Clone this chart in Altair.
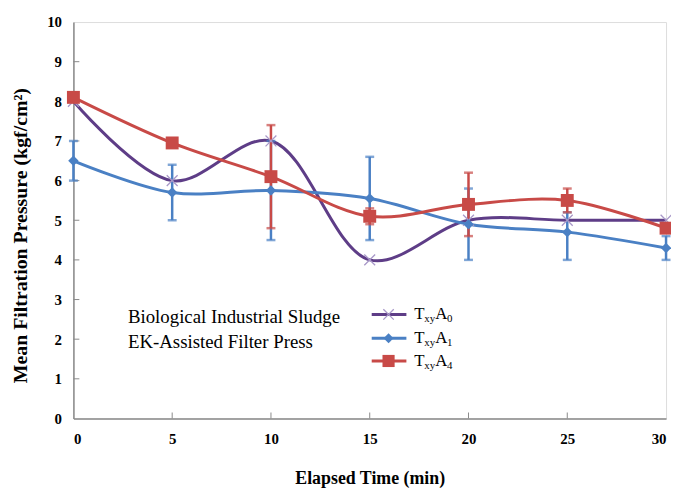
import altair as alt
import pandas as pd

# ---- data ----
times = [0, 5, 10, 15, 20, 25, 30]
a0 = [8.0, 6.0, 7.0, 4.0, 5.0, 5.0, 5.0]
a1 = [6.5, 5.7, 5.75, 5.55, 4.9, 4.7, 4.3]
a4 = [8.1, 6.95, 6.1, 5.1, 5.4, 5.5, 4.8]

a1_err_lo = [6.0, 5.0, 4.5, 4.5, 4.0, 4.0, 4.0]
a1_err_hi = [7.0, 6.4, 7.0, 6.6, 5.8, 5.2, 4.6]

a4_err_t = [10, 15, 20, 25]
a4_err_lo = [4.8, 4.9, 4.6, 5.2]
a4_err_hi = [7.4, 5.3, 6.2, 5.8]

x_ticks = [0, 5, 10, 15, 20, 25, 30]
y_ticks = [0, 1, 2, 3, 4, 5, 6, 7, 8, 9, 10]

PURPLE = "#5E3D87"
PURPLE_MK = "#A898C8"
BLUE = "#4A80C4"
RED = "#C84A47"
SERIF = "Liberation Serif, Times New Roman, serif"

df0 = pd.DataFrame({"t": times, "v": a0})
df1 = pd.DataFrame({"t": times, "v": a1})
df4 = pd.DataFrame({"t": times, "v": a4})
e1 = pd.DataFrame({"t": times, "lo": a1_err_lo, "hi": a1_err_hi})
e4 = pd.DataFrame({"t": a4_err_t, "lo": a4_err_lo, "hi": a4_err_hi})

xs = alt.Scale(domain=[0, 30], nice=False)
ys = alt.Scale(domain=[0, 10], nice=False)

XAX = alt.Axis(
    values=x_ticks, title="Elapsed Time (min)", grid=False, tickSize=0, labelOverlap=False,
    domainColor="#8a8a8a", domainWidth=1.5, labelFont=SERIF, labelFontWeight="bold",
    labelFontSize=15, labelColor="black", labelPadding=13, titleFont=SERIF,
    titleFontWeight="bold", titleFontSize=18, titleColor="black", titleY=61,
    titleBaseline="middle")
YAX = alt.Axis(
    values=y_ticks, title="Mean Filtration Pressure (kgf/cm²)", grid=False, tickSize=0,
    labelOverlap=False, tickCount=11,
    domainColor="#8a8a8a", domainWidth=1.5, labelFont=SERIF, labelFontWeight="bold",
    labelFontSize=15, labelColor="black", labelPadding=12, titleFont=SERIF,
    titleFontWeight="bold", titleFontSize=20, titleColor="black", titleX=-53,
    titleY=215, titleAngle=270, titleAlign="center", titleBaseline="middle")

Xn = lambda f: alt.X(f, scale=xs, axis=XAX)
Yn = lambda f: alt.Y(f, scale=ys, axis=YAX)

# inward ticks
xt = pd.DataFrame({"t": x_ticks[1:-1]})
yt = pd.DataFrame({"v": y_ticks[1:-1]})
xtick = alt.Chart(xt).mark_rule(color="#8a8a8a", strokeWidth=1).encode(
    x=Xn("t:Q"), y=alt.value(400), y2=alt.value(394))
ytick = alt.Chart(yt).mark_rule(color="#8a8a8a", strokeWidth=1).encode(
    y=Yn("v:Q"), x=alt.value(0), x2=alt.value(6))

def err(df, color):
    bar = alt.Chart(df).mark_rule(color=color, strokeWidth=2.5).encode(
        x=Xn("t:Q"), y=Yn("lo:Q"), y2="hi:Q")
    c1 = alt.Chart(df).mark_tick(color=color, thickness=2.5, size=9, orient="horizontal").encode(
        x=Xn("t:Q"), y=Yn("lo:Q"))
    c2 = alt.Chart(df).mark_tick(color=color, thickness=2.5, size=9, orient="horizontal").encode(
        x=Xn("t:Q"), y=Yn("hi:Q"))
    return bar + c1 + c2

def line(df, color):
    return alt.Chart(df).mark_line(color=color, strokeWidth=3, interpolate="catmull-rom").encode(
        x=Xn("t:Q"), y=Yn("v:Q"))

XSHAPE = "M-1,-1L1,1M1,-1L-1,1"
pts0 = alt.Chart(df0).mark_point(shape=XSHAPE, size=120, filled=False, color=PURPLE_MK,
                                 strokeWidth=1.3, opacity=1).encode(x=Xn("t:Q"), y=Yn("v:Q"))
pts1 = alt.Chart(df1).mark_point(shape="diamond", size=110, filled=True, color=BLUE,
                                 opacity=1).encode(x=Xn("t:Q"), y=Yn("v:Q"))
pts4 = alt.Chart(df4).mark_point(shape="square", size=170, filled=True, color=RED,
                                 opacity=1).encode(x=Xn("t:Q"), y=Yn("v:Q"))

# annotation text
ann = pd.DataFrame({"txt": ["Biological Industrial Sludge", "EK-Assisted Filter Press"],
                    "yy": [298, 323]})
ann_txt = alt.Chart(ann).mark_text(font=SERIF, fontSize=19, align="left", baseline="middle",
                                   color="black").encode(
    text="txt:N", x=alt.value(55), y=alt.Y("yy:Q", scale=None))

# legend
leg = pd.DataFrame({"row": [0, 1, 2], "yy": [295, 319, 342], "sub": ["0", "1", "4"]})
LY = alt.Y("yy:Q", scale=None)
def leg_row(i, color, mark):
    d = leg[leg.row == i]
    r = alt.Chart(d).mark_rule(color=color, strokeWidth=3).encode(
        x=alt.value(301), x2=alt.value(336), y=LY)
    return r + mark(d)

lm0 = lambda d: alt.Chart(d).mark_point(shape=XSHAPE, size=110, filled=False, color=PURPLE_MK,
                                        strokeWidth=1.3, opacity=1).encode(x=alt.value(318), y=LY)
lm1 = lambda d: alt.Chart(d).mark_point(shape="diamond", size=100, filled=True, color=BLUE,
                                        opacity=1).encode(x=alt.value(318), y=LY)
lm4 = lambda d: alt.Chart(d).mark_point(shape="square", size=150, filled=True, color=RED,
                                        opacity=1).encode(x=alt.value(318), y=LY)

def txt(x, dy, size, field=None, const=None):
    enc = dict(x=alt.value(x), y=LY)
    m = alt.Chart(leg).mark_text(font=SERIF, fontSize=size, align="left", baseline="middle",
                                 color="black", dy=dy, **({"text": const} if const else {}))
    if field:
        enc["text"] = alt.Text(field + ":N")
    return m.encode(**enc)

leg_text = (txt(344, 0, 17, const="T") + txt(354, 5, 11, const="xy") +
            txt(365, 0, 17, const="A") + txt(377, 5, 11, field="sub"))

chart = alt.layer(
    line(df0, PURPLE),
    xtick, ytick,
    err(e1, BLUE), line(df1, BLUE), err(e4, RED), line(df4, RED),
    pts0, pts1, pts4,
    ann_txt,
    leg_row(0, PURPLE, lm0), leg_row(1, BLUE, lm1), leg_row(2, RED, lm4),
    leg_text,
).properties(
    width=598, height=400, autosize="none",
    padding={"left": 66, "top": 12, "right": 5, "bottom": 68},
).configure_view(stroke="#8a8a8a", strokeWidth=1.5).configure(background="white")

chart.save("out.html", embed_options={"renderer": "svg", "actions": False})
